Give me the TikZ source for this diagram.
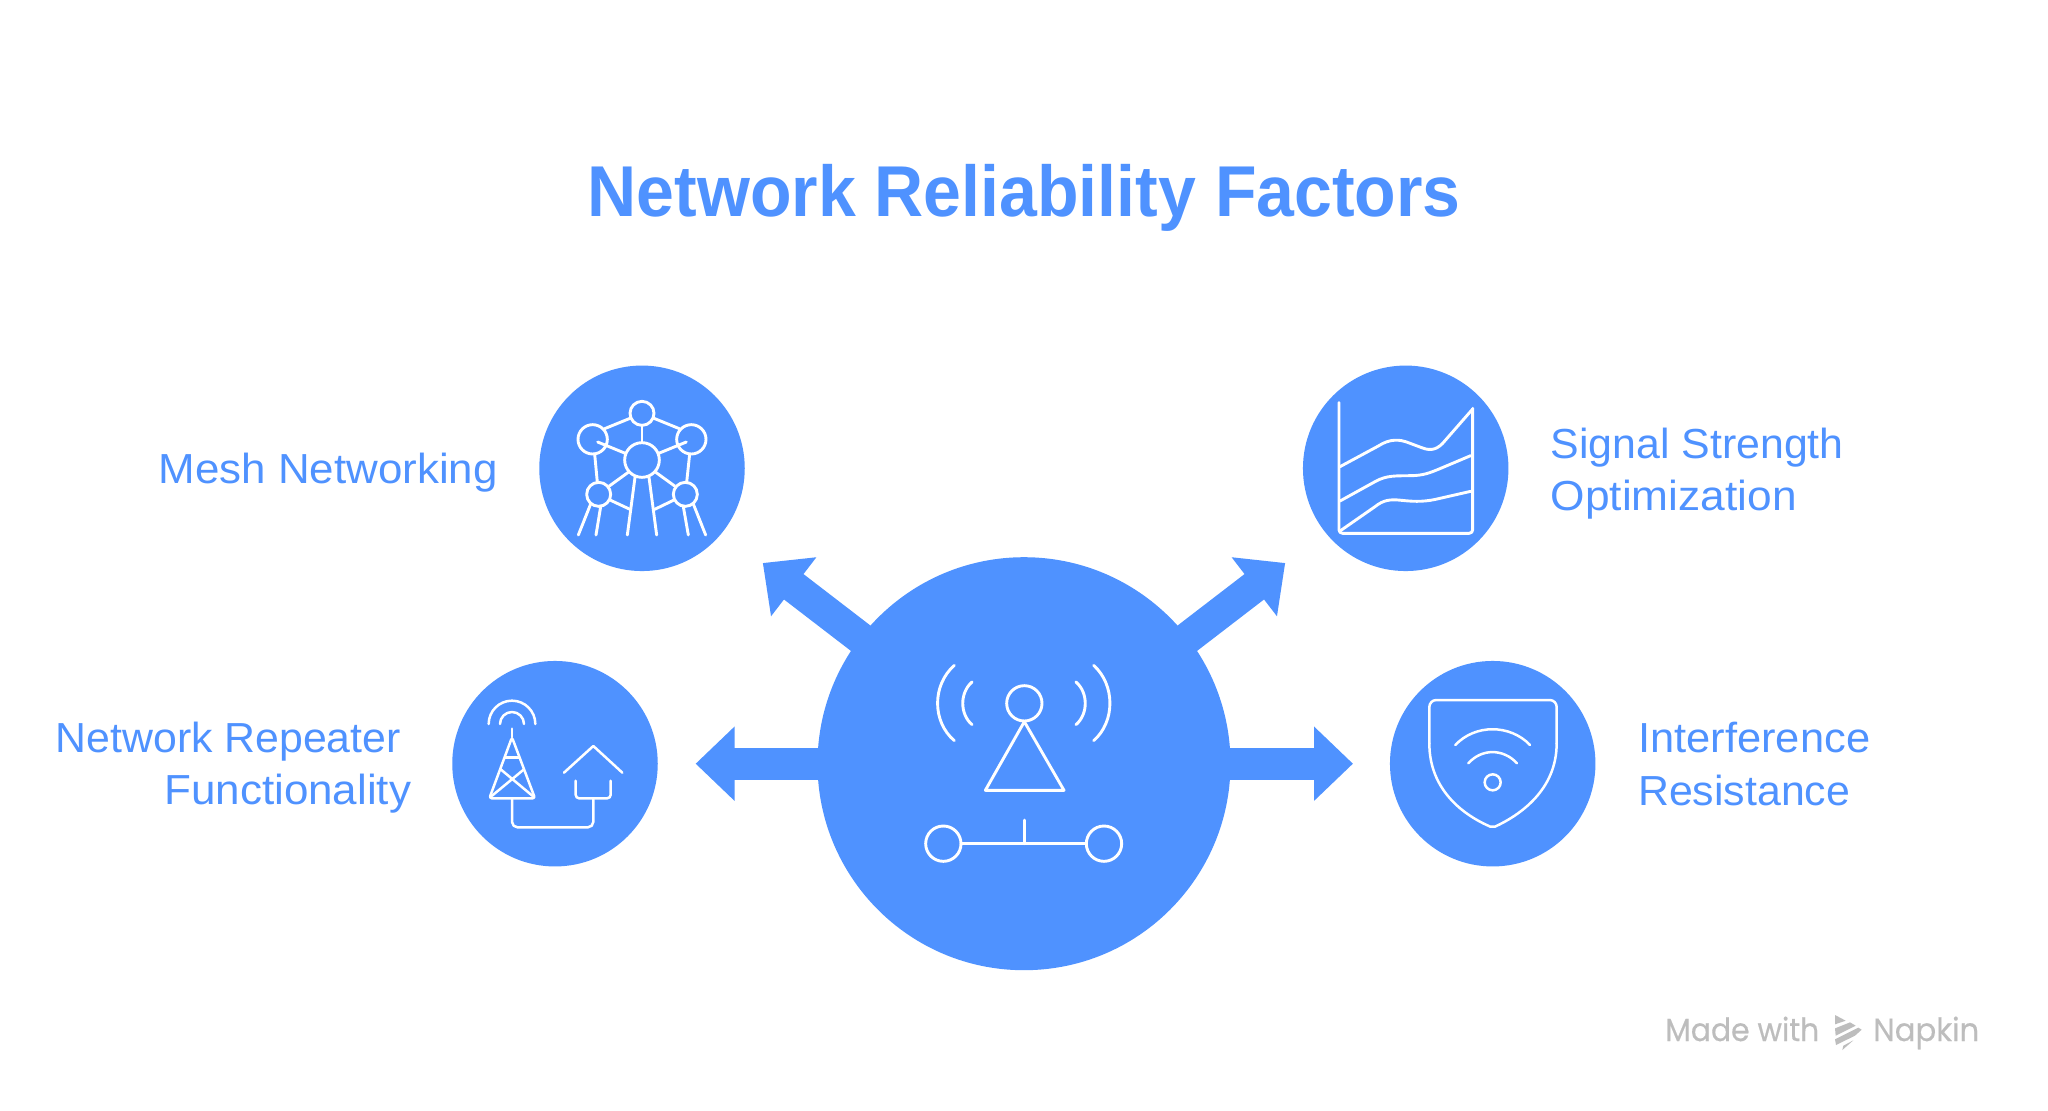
\documentclass[tikz,border=0pt]{standalone}
\usepackage{graphicx}
\usepackage{fontspec}
\setmainfont{Liberation Sans}
\newfontfamily\wmfont[FakeBold=0.5]{Poppins}
\usetikzlibrary{arrows.meta}
\definecolor{napblue}{HTML}{4F92FF}
\definecolor{wmgrey}{HTML}{BDBDBD}
\newcommand{\fitw}[2]{\resizebox{#1pt}{\height}{#2}}
\tikzset{
  blob/.style={circle,fill=napblue,draw=none,inner sep=0pt,minimum size=205.5pt},
  hubblob/.style={circle,fill=napblue,draw=none,inner sep=0pt,minimum size=413pt},
  bigarrow/.style={line width=32pt,draw=napblue,fill=napblue,-{Triangle[length=39pt,width=72pt]}},
  icon/.style={draw=white,line width=2.9pt,line cap=round,line join=round},
  thinicon/.style={draw=white,line width=2.5pt,line cap=round,line join=round},
  label/.style={anchor=base west,inner sep=0pt,text=napblue,font=\fontsize{42pt}{46pt}\selectfont},
  titletext/.style={anchor=base west,inner sep=0pt,text=napblue,font=\fontsize{72pt}{80pt}\selectfont\bfseries},
  wm/.style={anchor=base west,inner sep=0pt,text=wmgrey,font=\wmfont\fontsize{32pt}{36pt}\selectfont},
  zoomed/.style={x=0.33333pt,y=-0.33333pt}
}
\begin{document}
\begin{tikzpicture}[x=1pt,y=-1pt]
\useasboundingbox (0,0) rectangle (2048,1111);
\fill[white] (0,0) rectangle (2048,1111);

\node[titletext] (title) at (587.5,216.7) {\fitw{873}{Network Reliability Factors}};

\node[hubblob] (hub) at (1024,763.7) {};
\node[blob] (mesh) at (642,468.3) {};
\node[blob] (signal) at (1405.7,468.3) {};
\node[blob] (repeater) at (555,763.7) {};
\node[blob] (shield) at (1492.7,763.7) {};

\coordinate (tipUL) at (762.8,563);
\coordinate (tipUR) at (1285.2,563);
\coordinate (tipL) at (695.6,763.7);
\coordinate (tipR) at (1353,763.7);
\draw[bigarrow] (hub.center) -- (tipUL);
\draw[bigarrow] (hub.center) -- (tipUR);
\draw[bigarrow] (hub.center) -- (tipL);
\draw[bigarrow] (hub.center) -- (tipR);

% labels
\node[label] (lmesh) at (158.5,483.3) {\fitw{339}{Mesh Networking}};
\node[label] (lrep1) at (55.5,752.3) {\fitw{345}{Network Repeater}};
\node[label] (lrep2) at (164,804.3) {\fitw{247}{Functionality}};
\node[label] (lsig1) at (1550.5,458.3) {\fitw{293}{Signal Strength}};
\node[label] (lsig2) at (1550.5,510) {\fitw{246}{Optimization}};
\node[label] (lint1) at (1638,752.7) {\fitw{232}{Interference}};
\node[label] (lint2) at (1638,805) {\fitw{212}{Resistance}};

% hub icon
\begin{scope}[shift={(900,640)},zoomed]
\draw[icon] (373,190) circle (53);
\draw[icon] (130,611) circle (53);
\draw[icon] (612,611) circle (53);
\draw[icon] (373,245) -- (256,451) -- (492,451) -- cycle;
\draw[icon] (183,611) -- (559,611);
\draw[icon] (373,540) -- (373,611);
\draw[icon] (163,76) .. controls (96,135) and (96,245) .. (163,302);
\draw[icon] (216,126) .. controls (179,158) and (179,222) .. (216,254);
\draw[icon] (581,76) .. controls (646,135) and (646,245) .. (581,302);
\draw[icon] (528,126) .. controls (565,158) and (565,222) .. (528,254);
\end{scope}

% mesh icon
\begin{scope}[shift={(520,350)},zoomed]
\draw[icon] (366,190) circle (36);
\draw[icon] (218,268) circle (44);
\draw[icon] (514,268) circle (44);
\draw[icon] (366,330) circle (52);
\draw[icon] (236,433) circle (36);
\draw[icon] (496,433) circle (36);
\draw[icon] (254,236) -- (330,205);
\draw[icon] (402,205) -- (478,236);
\draw[icon] (366,226) -- (366,278);
\draw[icon] (233,276) -- (316,310);
\draw[icon] (499,276) -- (416,310);
\draw[icon] (224,312) -- (232,397);
\draw[icon] (509,312) -- (500,397);
\draw[icon] (268,408) -- (326,366);
\draw[icon] (464,408) -- (406,366);
\draw[icon] (345,382) -- (322,555);
\draw[icon] (387,382) -- (410,555);
\draw[icon] (270,450) -- (330,478);
\draw[icon] (462,450) -- (404,478);
\draw[icon] (212,462) -- (175,555);
\draw[icon] (242,470) -- (228,555);
\draw[icon] (490,470) -- (505,555);
\draw[icon] (520,462) -- (557,555);
\end{scope}

% signal icon
\begin{scope}[shift={(1280,350)},zoomed]
\draw[icon,rounded corners=3.5pt] (177,158) -- (177,550) -- (578,550) -- (578,175);
\draw[icon] (180,350) -- (295,288) .. controls (330,265) and (360,268) .. (385,278) -- (425,293) .. controls (455,305) and (475,297) .. (495,272) -- (578,177);
\draw[icon] (180,453) -- (285,395) .. controls (320,375) and (350,378) .. (390,377) .. controls (430,377) and (450,368) .. (475,358) -- (572,317);
\draw[icon] (180,543) -- (285,470) .. controls (310,450) and (330,447) .. (365,451) .. controls (410,456) and (440,455) .. (480,445) -- (572,424);
\end{scope}

% repeater icon
\begin{scope}[shift={(440,650)},zoomed]
\draw[thinicon] (146,222) arc[start angle=180,end angle=360,radius=70];
\draw[thinicon] (180,222) arc[start angle=180,end angle=360,radius=36];
\draw[thinicon] (216,236) -- (216,262);
\draw[thinicon,rounded corners=2.5pt] (216,262) -- (148,445) -- (285,445) -- cycle;
\draw[thinicon] (196,322) -- (236,322);
\draw[thinicon] (182,358) -- (278,438);
\draw[thinicon] (252,358) -- (155,438);
\draw[thinicon,rounded corners=5.5pt] (216,448) -- (216,532) -- (460,532) -- (460,448);
\draw[thinicon] (372,368) -- (460,288) -- (547,368);
\draw[thinicon,rounded corners=3.5pt] (407,392) -- (407,445) -- (512,445) -- (512,392);
\end{scope}

% shield icon
\begin{scope}[shift={(1380,650)},zoomed]
\draw[thinicon,rounded corners=7pt] (148,280) -- (148,150) -- (530,150) -- (530,280);
\draw[thinicon] (530,280) .. controls (530,420) and (420,495) .. (345,530) .. controls (340,532) and (336,532) .. (331,530) .. controls (250,495) and (148,420) .. (148,280);
\draw[thinicon] (226,285) .. controls (285,222) and (390,222) .. (450,285);
\draw[thinicon] (265,340) .. controls (305,295) and (370,295) .. (411,340);
\draw[thinicon] (338,397) circle (24);
\end{scope}

% watermark
\node[wm] (wm1) at (1665,1041) {\fitw{154}{Made with}};
\node[wm] (wm2) at (1873,1041) {\fitw{106}{Napkin}};
\begin{scope}[shift={(1825,1005)},zoomed,wmgrey]
\fill (30,30) -- (62,47) -- (30,58) -- cycle;
\fill (30,70) -- (75,52) -- (92,62) -- (32,92) -- cycle;
\fill (30,103) -- (100,68) -- (110,74) -- (90,92) -- (33,120) -- cycle;
\fill (55,122) -- (85,106) -- (52,135) -- cycle;
\end{scope}
\end{tikzpicture}
\end{document}
